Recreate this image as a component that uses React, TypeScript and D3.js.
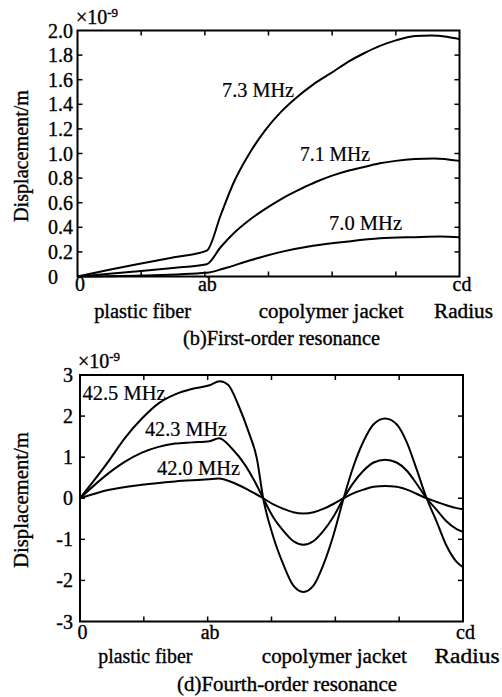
import React from "react";
import * as d3 from "d3";

// ---------- data ----------
const radiusTicks = [0, 1, 2, 3, 4, 5, 6];
const radiusTickLabels = ["0", "", "ab", "", "", "", "cd"];
const regionLabels = ["plastic fiber", "copolymer jacket", "Radius"];

// (b) first-order resonance
const firstTicks = [0, 0.2, 0.4, 0.6, 0.8, 1.0, 1.2, 1.4, 1.6, 1.8, 2.0];
const firstTickLabels = ["0", "0.2", "0.4", "0.6", "0.8", "1.0", "1.2", "1.4", "1.6", "1.8", "2.0"];
const firstNames = ["7.3 MHz", "7.1 MHz", "7.0 MHz"];
const first73R = [0, 0.5, 1, 1.5, 2.03, 2.25, 2.45, 2.7, 2.95, 3.2, 3.45, 3.7, 4.0, 4.25, 4.5, 4.75, 5.0, 5.3, 5.55, 5.8, 6];
const first73V = [0, 0.055, 0.105, 0.155, 0.21, 0.5, 0.76, 1.0, 1.19, 1.34, 1.46, 1.56, 1.66, 1.745, 1.815, 1.875, 1.92, 1.955, 1.96, 1.95, 1.93];
const first71R = [0, 0.5, 1, 1.5, 2.03, 2.25, 2.45, 2.7, 2.95, 3.2, 3.5, 3.75, 4.0, 4.25, 4.5, 4.75, 5.0, 5.3, 5.6, 6];
const first71V = [0, 0.022, 0.045, 0.07, 0.1, 0.24, 0.35, 0.46, 0.55, 0.63, 0.71, 0.77, 0.82, 0.86, 0.89, 0.92, 0.94, 0.955, 0.96, 0.94];
const first70R = [0, 1, 2.03, 2.3, 2.7, 3.2, 3.7, 4.25, 4.75, 5.3, 5.7, 6];
const first70V = [0, 0.008, 0.03, 0.065, 0.13, 0.2, 0.25, 0.285, 0.31, 0.32, 0.325, 0.32];

// (d) fourth-order resonance
const fourthTicks = [-3, -2, -1, 0, 1, 2, 3];
const fourthTickLabels = ["-3", "-2", "-1", "0", "1", "2", "3"];
const fourthNames = ["42.5 MHz", "42.3 MHz", "42.0 MHz"];
const fourth425R = [0, 0.44, 0.7, 0.97, 1.23, 1.49, 1.75, 2.03, 2.19, 2.32, 2.48, 2.64, 2.77, 2.87, 3.03, 3.19, 3.34, 3.5, 3.66, 3.81, 3.97, 4.13, 4.28, 4.44, 4.6, 4.78, 4.96, 5.12, 5.27, 5.43, 5.59, 5.74, 5.9, 6];
const fourth425V = [0, 0.885, 1.46, 1.94, 2.31, 2.53, 2.66, 2.75, 2.85, 2.76, 2.27, 1.62, 0.97, 0, -0.95, -1.63, -2.12, -2.28, -2.12, -1.63, -0.9, 0, 0.76, 1.38, 1.8, 1.94, 1.8, 1.36, 0.72, 0, -0.58, -1.15, -1.55, -1.68];
const fourth423R = [0, 0.44, 0.7, 0.97, 1.23, 1.49, 1.75, 2.03, 2.18, 2.38, 2.59, 2.74, 2.87, 3.03, 3.19, 3.34, 3.5, 3.66, 3.81, 3.97, 4.13, 4.28, 4.44, 4.6, 4.78, 4.96, 5.12, 5.27, 5.43, 5.59, 5.74, 5.9, 6];
const fourth423V = [0, 0.6, 0.885, 1.11, 1.25, 1.33, 1.36, 1.39, 1.46, 1.21, 0.8, 0.4, 0, -0.47, -0.8, -1.04, -1.13, -1.04, -0.8, -0.45, 0, 0.37, 0.67, 0.87, 0.94, 0.87, 0.67, 0.36, 0, -0.29, -0.56, -0.75, -0.82];
const fourth420R = [0, 0.44, 0.97, 1.49, 2.01, 2.17, 2.43, 2.64, 2.87, 3.03, 3.19, 3.34, 3.5, 3.66, 3.81, 3.97, 4.13, 4.28, 4.44, 4.6, 4.78, 4.96, 5.12, 5.27, 5.43, 5.59, 5.74, 5.9, 6];
const fourth420V = [0, 0.2, 0.33, 0.41, 0.46, 0.48, 0.36, 0.2, 0, -0.15, -0.26, -0.34, -0.37, -0.34, -0.26, -0.14, 0, 0.12, 0.21, 0.28, 0.3, 0.28, 0.21, 0.11, 0, -0.09, -0.17, -0.24, -0.27];

const FONT = "Liberation Serif, Times New Roman, serif";

type Series = { r: number[]; v: number[] };
type LabelPos = { x: number; y: number; w: number };

interface PanelProps {
  x0: number; x1: number; yTop: number; yBot: number;
  yDomain: [number, number];
  yTicks: number[]; yTickLabels: string[];
  yLabAnchor: "start" | "end"; yLabX: number;
  series: Series[]; names: string[]; namePos: LabelPos[];
  expoX: number; expoY: number;
  yTitleY: number; yTitleLen: number;
  xLabY: number; regionY: number; regionLens: number[];
  caption: string; captionX: number; captionY: number; captionLen: number;
}

const txt = { fontFamily: FONT, fill: "#000", stroke: "#000", strokeWidth: 0.35 } as React.CSSProperties;

function Panel(p: PanelProps) {
  const xs = d3.scaleLinear().domain([0, 6]).range([p.x0, p.x1]);
  const ys = d3.scaleLinear().domain(p.yDomain).range([p.yBot, p.yTop]);
  const line = d3
    .line<[number, number]>()
    .x((d) => xs(d[0]))
    .y((d) => ys(d[1]))
    .curve(d3.curveMonotoneX);
  const tl = 5;
  const regionX = [xs(1) + 1.5, xs(4) - 1, xs(6) + 4];
  return (
    <g>
      {p.series.map((s, i) => (
        <path
          key={i}
          d={line(s.r.map((r, j) => [r, s.v[j]] as [number, number])) || ""}
          fill="none"
          stroke="#000"
          strokeWidth={2}
          strokeLinejoin="round"
        />
      ))}
      <rect x={p.x0} y={p.yTop} width={p.x1 - p.x0} height={p.yBot - p.yTop} fill="none" stroke="#000" strokeWidth={2} />
      {radiusTicks.slice(1, -1).map((t) => (
        <g key={"xt" + t}>
          <line x1={xs(t)} x2={xs(t)} y1={p.yBot} y2={p.yBot - tl} stroke="#000" strokeWidth={1.5} />
          <line x1={xs(t)} x2={xs(t)} y1={p.yTop} y2={p.yTop + tl} stroke="#000" strokeWidth={1.5} />
        </g>
      ))}
      {p.yTicks.slice(1, -1).map((t) => (
        <g key={"yt" + t}>
          <line x1={p.x0} x2={p.x0 + tl} y1={ys(t)} y2={ys(t)} stroke="#000" strokeWidth={1.5} />
          <line x1={p.x1} x2={p.x1 - tl} y1={ys(t)} y2={ys(t)} stroke="#000" strokeWidth={1.5} />
        </g>
      ))}
      {p.yTicks.map((t, i) => (
        <text key={"yl" + t} x={p.yLabX} y={ys(t) + 7} fontSize={20} textAnchor={p.yLabAnchor} style={txt}>
          {p.yTickLabels[i]}
        </text>
      ))}
      {radiusTicks.map((t, i) =>
        radiusTickLabels[i] ? (
          <text key={"xl" + t} x={xs(t) + 2.5} y={p.xLabY} fontSize={20} textAnchor="middle" style={txt}>
            {radiusTickLabels[i]}
          </text>
        ) : null
      )}
      <text x={p.expoX} y={p.expoY} fontSize={20} style={txt}>
        ×10<tspan dy={-7} fontSize={13}>-9</tspan>
      </text>
      <text
        transform={`translate(28,${p.yTitleY}) rotate(-90)`}
        fontSize={20}
        textAnchor="middle"
        textLength={p.yTitleLen}
        lengthAdjust="spacingAndGlyphs"
        style={txt}
      >
        Displacement/m
      </text>
      {p.names.map((n, i) => (
        <text key={n} x={p.namePos[i].x} y={p.namePos[i].y} fontSize={20} textLength={p.namePos[i].w} lengthAdjust="spacingAndGlyphs" style={{ ...txt, strokeWidth: 0.2 }}>
          {n}
        </text>
      ))}
      {regionLabels.map((l, i) => (
        <text key={l} x={regionX[i]} y={p.regionY} fontSize={20} textAnchor="middle" textLength={p.regionLens[i]} lengthAdjust="spacingAndGlyphs" style={txt}>
          {l}
        </text>
      ))}
      <text x={p.captionX} y={p.captionY} fontSize={20} textAnchor="middle" textLength={p.captionLen} lengthAdjust="spacingAndGlyphs" style={txt}>
        {p.caption}
      </text>
    </g>
  );
}

export default function App() {
  return (
    <svg
      width={502}
      height={697}
      viewBox="0 0 502 697"
      style={{ position: "absolute", left: 0, top: 0, display: "block", background: "#fff" }}
    >
      <rect width={502} height={697} fill="#fff" />
      <Panel
        x0={77.5} x1={459.5} yTop={30.5} yBot={276.5}
        yDomain={[0, 2]}
        yTicks={firstTicks} yTickLabels={firstTickLabels}
        yLabAnchor="start" yLabX={48}
        series={[
          { r: first73R, v: first73V },
          { r: first71R, v: first71V },
          { r: first70R, v: first70V },
        ]}
        names={firstNames}
        namePos={[
          { x: 222, y: 97, w: 72 },
          { x: 300, y: 161, w: 70 },
          { x: 329, y: 230, w: 73 },
        ]}
        expoX={76} expoY={24}
        yTitleY={156} yTitleLen={132}
        xLabY={291} regionY={318} regionLens={[97, 145, 59]}
        caption="(b)First-order resonance" captionX={281.5} captionY={345} captionLen={197}
      />
      <Panel
        x0={80} x1={463} yTop={375} yBot={621.5}
        yDomain={[-3, 3]}
        yTicks={fourthTicks} yTickLabels={fourthTickLabels}
        yLabAnchor="end" yLabX={73}
        series={[
          { r: fourth425R, v: fourth425V },
          { r: fourth423R, v: fourth423V },
          { r: fourth420R, v: fourth420V },
        ]}
        names={fourthNames}
        namePos={[
          { x: 82.5, y: 400, w: 83 },
          { x: 145, y: 436, w: 82 },
          { x: 157, y: 475, w: 83 },
        ]}
        expoX={78} expoY={368}
        yTitleY={500} yTitleLen={136}
        xLabY={639} regionY={663} regionLens={[94, 145, 65]}
        caption="(d)Fourth-order resonance" captionX={287} captionY={691} captionLen={220}
      />
    </svg>
  );
}
